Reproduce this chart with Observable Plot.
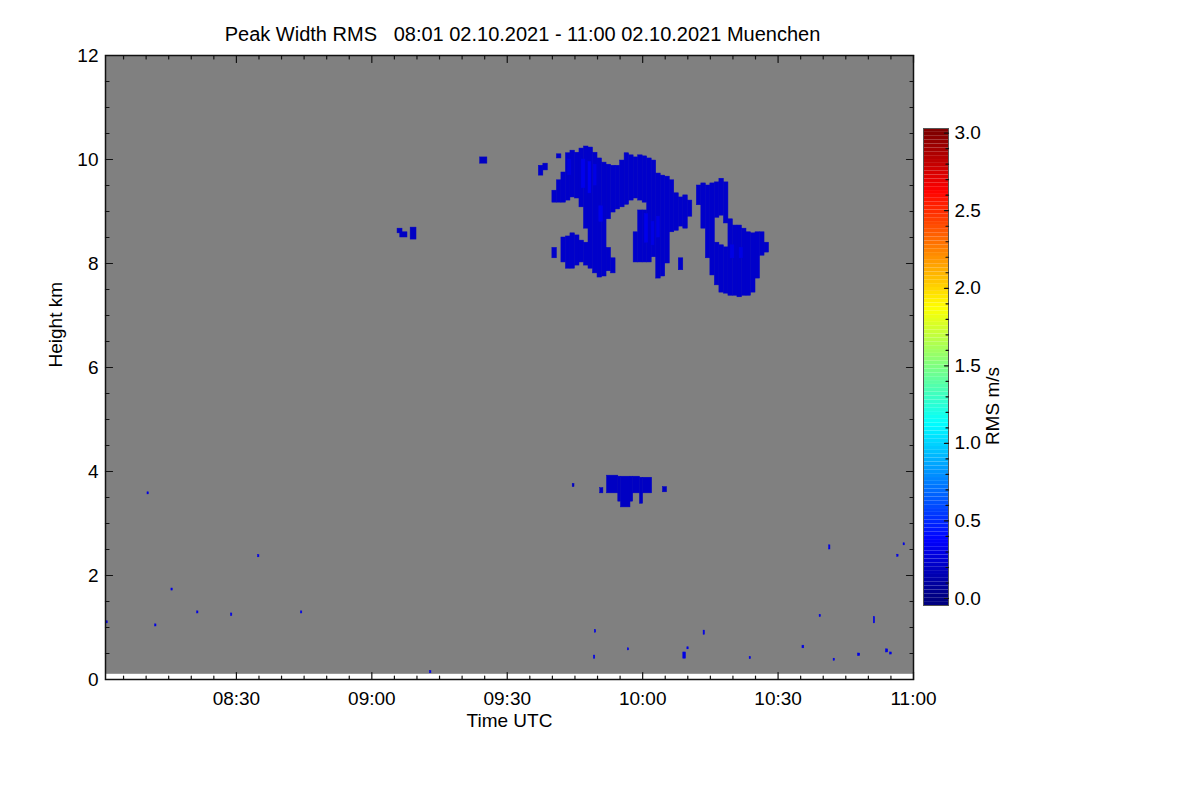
<!DOCTYPE html>
<html>
<head>
<meta charset="utf-8">
<script src="https://cdn.jsdelivr.net/npm/d3@7"></script>
<script src="https://cdn.jsdelivr.net/npm/@observablehq/plot@0.6"></script>
<style>
  body { margin: 0; background: #fff; }
  #wrap { position: relative; width: 1200px; height: 800px; font-family: "Liberation Sans", Arial, sans-serif; }
  #wrap svg { position: absolute; left: 0; top: 0; }
</style>
</head>
<body>
<div id="wrap"></div>
<script>
// ---------- chart data ----------
const titleText = "Peak Width RMS\u00a0\u00a0\u00a008:01 02.10.2021 - 11:00 02.10.2021 Muenchen";
const xTitle = "Time UTC";
const yTitle = "Height km";
const colorTitle = "RMS m/s";
const timeDomain = ["08:01", "11:00"];
const heightDomain = [0, 12];
const gateRange = [0.1, 12];               // range covered by the radar (grey = no echo)
const xTickLabels = ["08:30", "09:00", "09:30", "10:00", "10:30", "11:00"];
const yTickLabels = [0, 2, 4, 6, 8, 10, 12];
const colorTickLabels = [0.0, 0.5, 1.0, 1.5, 2.0, 2.5, 3.0];
const colorDomain = [0, 3];
const colorbarRange = [-0.045, 3.03];

// rows: [start minute after 08:00, end minute, bottom km, top km, RMS m/s]
const cirrusUpper = [
  [97, 98, 9.69, 9.88, 0.22], [98, 99, 9.79, 9.92, 0.22], [101, 102, 10.02, 10.1, 0.22],
  [100, 101, 9.17, 9.4, 0.22], [101, 102, 9.17, 9.6, 0.22], [102, 103, 9.17, 9.75, 0.22],
  [103, 104, 9.21, 10.12, 0.22], [104, 105, 9.27, 10.17, 0.22], [105, 106, 9.25, 10.13, 0.22],
  [106, 107, 9.08, 10.21, 0.22], [107, 108, 8.67, 10.25, 0.22], [108, 109, 7.9, 10.23, 0.22],
  [109, 110, 7.81, 10.13, 0.22], [110, 111, 7.73, 10.02, 0.22], [111, 112, 7.75, 9.94, 0.22],
  [112, 113, 8.85, 9.9, 0.22], [112, 113, 7.85, 8.3, 0.22],
  [113, 114, 8.98, 9.88, 0.22], [113, 114, 7.81, 8.1, 0.22],
  [114, 115, 9.04, 9.88, 0.22], [115, 116, 9.08, 9.98, 0.22], [116, 117, 9.13, 10.12, 0.22],
  [117, 118, 9.21, 10.08, 0.22], [118, 119, 9.25, 10.04, 0.22], [119, 120, 9.21, 10.08, 0.22],
  [120, 121, 9.17, 10.06, 0.22], [121, 122, 8.02, 10.02, 0.22], [122, 123, 8.12, 9.98, 0.22],
  [123, 124, 7.71, 9.73, 0.22], [124, 125, 7.75, 9.69, 0.22], [125, 126, 8.0, 9.67, 0.22],
  [126, 127, 8.6, 9.6, 0.22], [127, 128, 8.63, 9.35, 0.22],
  [128, 129, 8.71, 9.27, 0.22], [128, 129, 7.87, 8.1, 0.22],
  [129, 130, 8.67, 9.31, 0.22], [130, 131, 8.9, 9.21, 0.22]
];
const cirrusLobe = [
  [100, 101, 8.1, 8.3, 0.22], [102, 103, 8.02, 8.5, 0.22], [103, 104, 7.9, 8.52, 0.22],
  [104, 105, 7.9, 8.58, 0.22], [105, 106, 7.96, 8.54, 0.22], [106, 107, 8.02, 8.44, 0.22],
  [107, 108, 7.96, 8.4, 0.22]
];
const cirrusMiddle = [
  [118, 119, 8.02, 8.6, 0.22], [119, 120, 8.02, 9.02, 0.22], [120, 121, 8.02, 9.02, 0.22]
];
const cirrusRing = [
  [132, 133, 9.12, 9.5, 0.22], [133, 134, 8.67, 9.54, 0.22], [134, 135, 8.1, 9.5, 0.22],
  [135, 136, 7.77, 9.54, 0.22],
  [136, 137, 8.88, 9.56, 0.22], [136, 137, 7.58, 8.4, 0.22],
  [137, 138, 8.92, 9.63, 0.22], [137, 138, 7.44, 8.35, 0.22],
  [138, 139, 8.77, 9.56, 0.22], [138, 139, 7.42, 8.31, 0.22],
  [139, 140, 7.38, 8.85, 0.22], [140, 141, 7.38, 8.73, 0.22], [141, 142, 7.35, 8.73, 0.22],
  [142, 143, 7.38, 8.67, 0.22], [143, 144, 7.38, 8.6, 0.22], [144, 145, 7.44, 8.58, 0.22],
  [145, 146, 7.71, 8.6, 0.22], [146, 147, 8.15, 8.6, 0.22], [147, 148, 8.21, 8.4, 0.22]
];
const brightCores = [
  [106.5, 107.3, 9.45, 10.0, 0.32], [108, 108.6, 9.35, 9.95, 0.34], [109.2, 109.8, 9.5, 9.9, 0.3],
  [110.4, 111.2, 8.8, 9.1, 0.32], [120.5, 121.2, 8.4, 8.95, 0.32], [122, 122.6, 8.35, 8.8, 0.3],
  [123.2, 123.8, 8.5, 8.9, 0.3], [139.5, 140.3, 8.1, 8.35, 0.3], [141.5, 142.2, 8.1, 8.3, 0.3],
  [103.5, 104.2, 9.7, 10.0, 0.28]
];
const midLevelCloud = [
  [104.5, 104.9, 3.7, 3.76, 0.2], [110.6, 111.3, 3.58, 3.68, 0.2], [112.1, 114.6, 3.58, 3.92, 0.2],
  [114.6, 115.2, 3.42, 3.9, 0.2], [115.2, 117.3, 3.31, 3.9, 0.2], [117.3, 117.9, 3.42, 3.9, 0.2],
  [117.9, 119.4, 3.58, 3.9, 0.2], [119.4, 120.1, 3.38, 3.88, 0.2], [120.1, 122.1, 3.58, 3.88, 0.2],
  [124.5, 125.4, 3.6, 3.7, 0.2]
];
const smallCells = [
  [84.0, 85.6, 9.92, 10.04, 0.2], [65.7, 66.8, 8.58, 8.67, 0.2], [66.3, 67.9, 8.5, 8.6, 0.2],
  [68.6, 69.9, 8.46, 8.69, 0.2]
];
const speckles = [
  [1.2, 1.5, 1.08, 1.12, 0.3], [12.0, 12.3, 1.02, 1.06, 0.3], [10.3, 10.6, 3.56, 3.6, 0.3],
  [15.6, 15.9, 1.71, 1.75, 0.3], [21.3, 21.6, 1.27, 1.31, 0.3], [28.8, 29.1, 1.22, 1.27, 0.3],
  [34.8, 35.1, 2.35, 2.39, 0.3], [44.3, 44.6, 1.27, 1.31, 0.3], [72.9, 73.2, 0.12, 0.16, 0.3],
  [109.4, 109.7, 0.9, 0.95, 0.3], [109.2, 109.5, 0.4, 0.46, 0.3], [116.7, 117.0, 0.56, 0.6, 0.3],
  [129.0, 129.6, 0.4, 0.52, 0.3], [129.9, 130.2, 0.58, 0.62, 0.3], [133.5, 133.8, 0.86, 0.94, 0.3],
  [143.7, 144.0, 0.39, 0.43, 0.3], [155.4, 155.8, 0.6, 0.65, 0.3], [159.2, 159.5, 1.2, 1.24, 0.3],
  [161.3, 161.6, 2.5, 2.58, 0.3], [162.3, 162.6, 0.36, 0.4, 0.3], [167.7, 168.2, 0.45, 0.5, 0.3],
  [171.2, 171.5, 1.08, 1.2, 0.3], [173.9, 174.4, 0.52, 0.58, 0.3], [174.8, 175.2, 0.48, 0.52, 0.3],
  [176.4, 176.7, 2.36, 2.4, 0.3], [177.8, 178.1, 2.58, 2.62, 0.3]
];

// ---------- helpers ----------
const base = Date.UTC(2021, 9, 2, 8, 0);
const toDate = m => new Date(base + m * 60000);
const hhmm = s => { const [h, m] = s.split(":").map(Number); return toDate((h - 8) * 60 + m); };
const xStart = hhmm(timeDomain[0]), xEnd = hhmm(timeDomain[1]);
const clamp01 = v => Math.max(0, Math.min(1, v));
const jet = t => d3.rgb(
  255 * clamp01(1.5 - Math.abs(4 * t - 3)),
  255 * clamp01(1.5 - Math.abs(4 * t - 2)),
  255 * clamp01(1.5 - Math.abs(4 * t - 1))
).formatHex();
const colorScale = {type: "linear", domain: colorDomain, interpolate: jet, clamp: true};

const cells = [...cirrusUpper, ...cirrusLobe, ...cirrusMiddle, ...cirrusRing, ...brightCores,
               ...midLevelCloud, ...smallCells, ...speckles]
  .map(([t0, t1, h0, h1, v]) => ({x1: toDate(t0), x2: toDate(t1), y1: h0, y2: h1, v}));
const coverage = [{x1: xStart, x2: xEnd, y1: gateRange[0], y2: gateRange[1]}];

const tickShape = {draw(ctx, l) { ctx.moveTo(0, 0); ctx.lineTo(0, -l); }};
const xMajor = xTickLabels.map(hhmm);
const xMinor = d3.utcMinute.every(5).range(xStart, xEnd).filter(d => d.getUTCMinutes() % 30 !== 0);
const yMinor = d3.range(0.5, 12, 0.5).filter(v => v % 2 !== 0);
const font = "Liberation Sans, Arial, Helvetica, sans-serif";
const ink = "#111";

const tick = (data, anchor, rotate, length, k) =>
  (k === "x" ? Plot.vectorX : Plot.vectorY)(data, {frameAnchor: anchor, rotate, length, anchor: "start",
    shape: tickShape, stroke: ink, strokeWidth: 1.2});

const main = Plot.plot({
  width: 1200, height: 800,
  marginLeft: 105, marginRight: 287, marginTop: 55, marginBottom: 121,
  style: {fontFamily: font, fontSize: "19px", color: "black", background: "white"},
  x: {type: "utc", domain: [xStart, xEnd], label: null},
  y: {domain: heightDomain, label: null},
  color: colorScale,
  marks: [
    Plot.rect(coverage, {x1: "x1", x2: "x2", y1: "y1", y2: "y2", fill: "#808080"}),
    Plot.rect(cells, {x1: "x1", x2: "x2", y1: "y1", y2: "y2", fill: "v", stroke: "v", strokeWidth: 0.5}),
    Plot.frame({stroke: ink, strokeWidth: 1.5}),
    tick(xMajor, "bottom", 0, 7, "x"), tick(xMinor, "bottom", 0, 3.5, "x"),
    tick(xMajor, "top", 180, 7, "x"), tick(xMinor, "top", 180, 3.5, "x"),
    tick(yTickLabels, "left", 90, 7, "y"), tick(yMinor, "left", 90, 3.5, "y"),
    tick(yTickLabels, "right", -90, 7, "y"), tick(yMinor, "right", -90, 3.5, "y"),
    Plot.axisX(xMajor, {tickSize: 0, tickPadding: 12, tickFormat: d3.utcFormat("%H:%M"), fontSize: 19, label: null}),
    Plot.axisY(yTickLabels, {tickSize: 0, tickPadding: 7, tickFormat: d3.format("d"), fontSize: 19, label: null}),
    Plot.text([xTitle], {frameAnchor: "bottom", dy: 47, fontSize: 19}),
    Plot.text([yTitle], {frameAnchor: "left", dx: -50, rotate: -90, fontSize: 19}),
    Plot.text([titleText], {frameAnchor: "top", dx: 13, dy: -29, fontSize: 20})
  ]
});

const cbStep = 0.025;
const levels = d3.range(colorbarRange[0], colorbarRange[1], cbStep);
const cbMinor = d3.range(0, 3.001, 0.1).map(v => +v.toFixed(1)).filter(v => Math.round(v * 10) % 5 !== 0);

const cbar = Plot.plot({
  width: 1200, height: 800,
  marginLeft: 923, marginRight: 252, marginTop: 128, marginBottom: 195,
  style: {fontFamily: font, fontSize: "19px", color: "black", background: "transparent"},
  y: {domain: colorbarRange, label: null},
  color: colorScale,
  marks: [
    Plot.rect(levels, {y1: d => d, y2: d => Math.min(d + cbStep, colorbarRange[1]), fill: d => d + cbStep / 2}),
    Plot.frame({stroke: "#555", strokeWidth: 1}),
    tick(colorTickLabels, "right", -90, 4, "y"),
    tick(cbMinor, "right", -90, 2.5, "y"),
    Plot.axisY(colorTickLabels, {anchor: "right", tickSize: 0, tickPadding: 6, tickFormat: d3.format(".1f"), fontSize: 19, label: null}),
    Plot.text([colorTitle], {frameAnchor: "right", dx: 44, rotate: -90, fontSize: 19})
  ]
});

const wrap = document.getElementById("wrap");
wrap.appendChild(main);
wrap.appendChild(cbar);
</script>
</body>
</html>
